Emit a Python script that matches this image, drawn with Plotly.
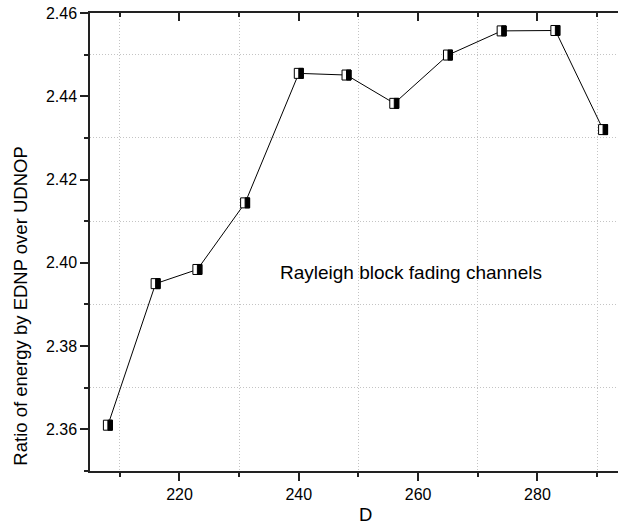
import plotly.graph_objects as go

# Data
D = [208, 216, 223, 231, 240, 248, 256, 265, 274, 283, 291]
ratio = [2.361, 2.395, 2.3984, 2.4144, 2.4455, 2.4451, 2.4383, 2.4499, 2.4557, 2.4558, 2.432]

x_title = "D"
y_title = "Ratio of energy by EDNP over UDNOP"
note = "Rayleigh block fading channels"

FONT = "Liberation Sans, Arial, sans-serif"
AX = "#222222"

fig = go.Figure()
fig.add_trace(go.Scatter(
    x=D, y=ratio, mode="lines",
    line=dict(color="black", width=1),
    showlegend=False, hoverinfo="x+y",
))
# invisible trace to anchor the top axis
fig.add_trace(go.Scatter(
    x=D, y=ratio, xaxis="x2", mode="markers",
    marker=dict(opacity=0), showlegend=False, hoverinfo="skip",
))

# half-filled rectangular markers (left white, right black)
shapes = []
for xv, yv in zip(D, ratio):
    shapes.append(dict(type="rect", layer="above",
                       xref="x", yref="y", xsizemode="pixel", ysizemode="pixel",
                       xanchor=xv, yanchor=yv, x0=-4.5, x1=4.5, y0=-5, y1=5,
                       fillcolor="white", line=dict(color="black", width=1)))
    shapes.append(dict(type="rect", layer="above",
                       xref="x", yref="y", xsizemode="pixel", ysizemode="pixel",
                       xanchor=xv, yanchor=yv, x0=0, x1=4.5, y0=-5, y1=5,
                       fillcolor="black", line=dict(color="black", width=1)))

xr = [205, 293.5]
common_minor_grid = dict(showgrid=True, gridcolor="#c4c4c4", griddash="1px,2px", gridwidth=1)

fig.update_layout(
    width=618, height=525,
    margin=dict(l=90, r=0, t=13, b=54),
    paper_bgcolor="white", plot_bgcolor="white",
    font=dict(family=FONT, color="black", size=16),
    shapes=shapes,
    xaxis=dict(
        range=xr, showgrid=False, zeroline=False,
        showline=True, linecolor=AX, linewidth=1.5,
        ticks="outside", ticklen=8, tickwidth=1.5, tickcolor=AX,
        tick0=200, dtick=20,
        tickfont=dict(size=16, family=FONT, color="black"),
        minor=dict(tick0=210, dtick=20, ticks="outside", ticklen=4,
                   tickwidth=1.5, tickcolor=AX, **common_minor_grid),
    ),
    xaxis2=dict(
        range=xr, overlaying="x", side="top", matches="x",
        showgrid=False, zeroline=False, showticklabels=False,
        showline=True, linecolor=AX, linewidth=1.5,
        ticks="inside", ticklen=8, tickwidth=1.5, tickcolor=AX,
        tick0=200, dtick=20,
        minor=dict(tick0=210, dtick=20, ticks="inside", ticklen=4,
                   tickwidth=1.5, tickcolor=AX, showgrid=False),
    ),
    yaxis=dict(
        range=[2.35, 2.46], showgrid=False, zeroline=False,
        showline=True, linecolor=AX, linewidth=1.5,
        ticks="outside", ticklen=8, tickwidth=1.5, tickcolor=AX,
        tick0=2.36, dtick=0.02, tickformat=".2f",
        tickfont=dict(size=16, family=FONT, color="black"),
        minor=dict(tick0=2.37, dtick=0.02, ticks="outside", ticklen=4,
                   tickwidth=1.5, tickcolor=AX, **common_minor_grid),
    ),
    annotations=[
        dict(text=note, x=258.8, y=2.3977, xref="x", yref="y",
             showarrow=False, xanchor="center", yanchor="middle",
             font=dict(size=19, family=FONT, color="black")),
        dict(text=x_title, x=0.5227, y=-0.096, xref="paper", yref="paper",
             showarrow=False, xanchor="center", yanchor="middle",
             font=dict(size=18.5, family=FONT, color="black")),
        dict(text=y_title, x=-0.1307, y=0.361, xref="paper", yref="paper",
             showarrow=False, xanchor="center", yanchor="middle", textangle=-90,
             font=dict(size=18.5, family=FONT, color="black")),
    ],
)

fig.write_html(
    "out.html",
    config={"displayModeBar": False},
    post_script="document.body.style.margin='0';document.body.style.overflow='hidden';",
)
